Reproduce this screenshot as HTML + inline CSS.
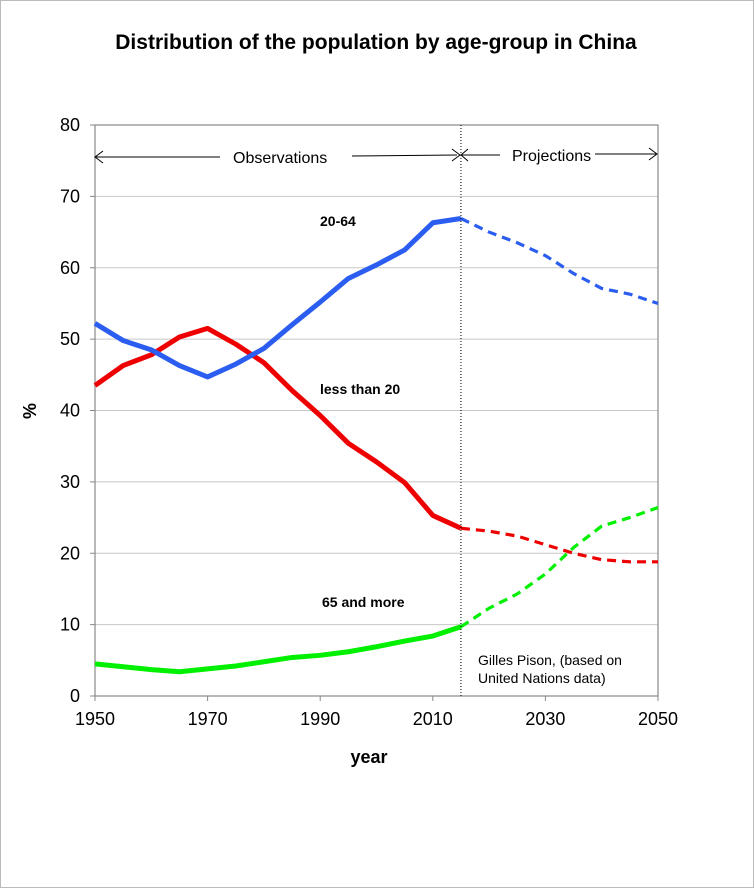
<!DOCTYPE html>
<html><head><meta charset="utf-8"><style>
html,body{margin:0;padding:0;background:#fff}
svg{display:block;font-family:"Liberation Sans",Arial,sans-serif}
</style></head><body>
<svg id="chart" width="754" height="888" viewBox="0 0 754 888">
<rect x="0.5" y="0.5" width="753" height="887" fill="#fff" stroke="#bbb"/>
<text x="376" y="49" text-anchor="middle" font-size="21" font-weight="bold">Distribution of the population by age-group in China</text>
<g id="grid"></g>
<g id="axes"></g>
<g id="series"></g>
<g id="notes"></g>
</svg>
<script>
const years = [1950,1955,1960,1965,1970,1975,1980,1985,1990,1995,2000,2005,2010,2015,2020,2025,2030,2035,2040,2045,2050];
const age20to64 = [52.2,49.8,48.5,46.3,44.7,46.5,48.7,52,55.2,58.5,60.4,62.5,66.3,66.9,65,63.5,61.7,59.2,57.1,56.3,55];
const lessThan20 = [43.5,46.3,47.8,50.3,51.5,49.3,46.7,42.8,39.3,35.4,32.8,29.9,25.3,23.5,23.1,22.4,21.2,20,19.1,18.8,18.8];
const age65plus = [4.5,4.1,3.7,3.4,3.8,4.2,4.8,5.4,5.7,6.2,6.9,7.7,8.4,9.7,12.3,14.3,17.1,20.8,23.8,25,26.4];
const yTicks = [0,10,20,30,40,50,60,70,80];
const xTicks = [1950,1970,1990,2010,2030,2050];
const splitYear = 2015;

const NS="http://www.w3.org/2000/svg";
const L=95,R=658,T=125,B=696;
const xs=y=>L+(y-1950)/100*(R-L);
const ys=v=>B-v/80*(B-T);
function mk(tag,attrs,parent,text){const e=document.createElementNS(NS,tag);for(const k in attrs)e.setAttribute(k,attrs[k]);if(text!==undefined)e.textContent=text;parent.appendChild(e);return e;}
const grid=document.getElementById('grid'),axes=document.getElementById('axes'),series=document.getElementById('series'),notes=document.getElementById('notes');

yTicks.forEach(v=>{
  if(v>0&&v<80){const g=mk('line',{x1:L,x2:R,y1:ys(v),y2:ys(v),stroke:'#c8c8c8','stroke-width':1},grid);
  
  }
  const tk=mk('line',{x1:L-5,x2:L,y1:ys(v),y2:ys(v),stroke:'#888'},axes);
  
  
  const t=mk('text',{x:L-15,y:ys(v)+6,'text-anchor':'end','font-size':18},axes,String(v));
  
  
});
xTicks.forEach(v=>{
  const tk=mk('line',{x1:xs(v),x2:xs(v),y1:B,y2:B+5,stroke:'#888'},axes);
  
  
  const t=mk('text',{x:xs(v),y:B+29,'text-anchor':'middle','font-size':18},axes,String(v));
  
  
});
const frame=mk('rect',{x:L,y:T,width:R-L,height:B-T,fill:'none',stroke:'#888','stroke-width':1.2},axes);


const xt=mk('text',{x:369,y:763,'text-anchor':'middle','font-size':18,'font-weight':'bold'},axes,'year');


const yt=mk('text',{x:36,y:411,'text-anchor':'middle','font-size':18,'font-weight':'bold',transform:'rotate(-90 36 411)'},axes,'%');



function draw(vals,color,name){
  const si=years.indexOf(splitYear);
  const pts=(a,b)=>years.slice(a,b).map((y,i)=>xs(y)+','+ys(vals[a+i])).join(' ');
  const s=mk('polyline',{points:pts(0,si+1),fill:'none',stroke:color,'stroke-width':5,'stroke-linejoin':'round'},series);
  
  
  const p=mk('polyline',{points:pts(si,years.length),fill:'none',stroke:color,'stroke-width':3.2,'stroke-dasharray':'9,6'},series);
  
  
}
draw(age65plus,'#00f000','age-65-plus');
draw(lessThan20,'#ee0000','less-than-20');
draw(age20to64,'#2b5ef0','age-20-64');

const sx=xs(splitYear);
const d=mk('line',{x1:sx,x2:sx,y1:T,y2:B,stroke:'#000','stroke-width':1,'stroke-dasharray':'1,2'},notes);


function lbl(x,y,t,name,opts){const e=mk('text',Object.assign({x:x,y:y,'font-size':14,'font-weight':'bold'},opts||{}),notes,t);
  
  }
lbl(320,226,'20-64','label-20-64');
lbl(320,394,'less than 20','label-less-than-20');
lbl(322,607,'65 and more','label-65-and-more');
lbl(478,665,'Gilles Pison, (based on','source-note-1',{'font-weight':'normal'});
lbl(478,683,'United Nations data)','source-note-2',{'font-weight':'normal'});
const ar=mk('g',{stroke:'#000','stroke-width':1,fill:'none'},notes);


mk('path',{d:'M95,157 L220,157 M352,156 L457,155 M103,151 L95,157 L103,163 M452,149 L460,155 L452,161 M462,155 L500,155 M468,149 L461,155 L468,161 M595,154 L656,154 M649,148 L657,154 L649,160'},ar);
lbl(233,163,'Observations','observations-label',{'font-weight':'normal','font-size':16});
lbl(512,161,'Projections','projections-label',{'font-weight':'normal','font-size':16});
</script>
</body></html>
